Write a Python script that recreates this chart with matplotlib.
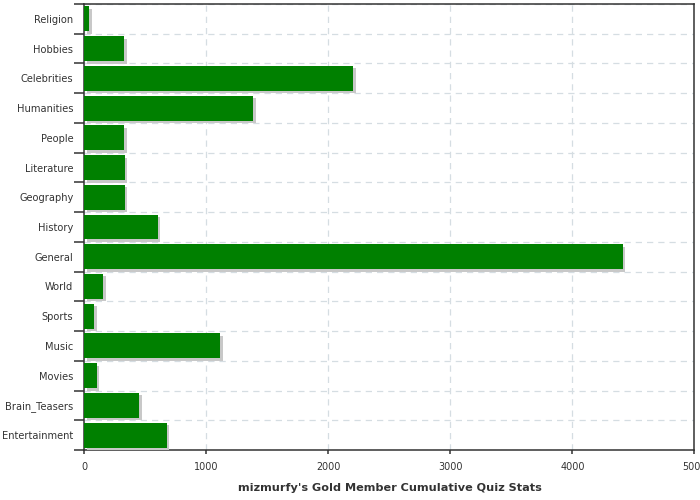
import matplotlib
matplotlib.use('Agg')
import matplotlib.pyplot as plt
import matplotlib.patheffects as pe
import numpy as np

categories = ['Religion', 'Hobbies', 'Celebrities', 'Humanities', 'People',
              'Literature', 'Geography', 'History', 'General', 'World',
              'Sports', 'Music', 'Movies', 'Brain_Teasers', 'Entertainment']
values = [37, 324, 2205, 1385, 324, 332, 332, 602, 4414, 152, 78, 1111, 102, 447, 676]
x_ticks = [0, 1000, 2000, 3000, 4000, 5000]

fig = plt.figure(figsize=(7, 5), dpi=100)
ax = fig.add_axes([0.1207, 0.1, 0.8713, 0.892])

pos = np.arange(len(categories))
ax.barh(pos, values, height=0.84, color='#008000', zorder=3,
        path_effects=[pe.SimplePatchShadow(offset=(1.8, -1.8), shadow_rgbFace='#c8c8c8', alpha=1.0),
                      pe.Normal()])

ax.set_xlim(0, 5000)
ax.set_ylim(len(categories) - 0.5, -0.5)
ax.set_xticks(x_ticks)
ax.set_xticklabels([str(t) for t in x_ticks], fontsize=6.9, color='#333333')

# category boundaries get the ticks and grid, labels sit in the middle
ax.set_yticks(np.arange(len(categories) + 1) - 0.5)
ax.set_yticklabels([])
ax.set_yticks(pos, minor=True)
ax.set_yticklabels(categories, minor=True, fontsize=7.1, color='#333333')
ax.tick_params(axis='y', which='major', length=7.5, width=1.1, color='#333333')
ax.tick_params(axis='y', which='minor', length=0, pad=8)
ax.tick_params(axis='x', length=3, width=1.1, color='#333333', pad=5.5)

ax.grid(True, which='major', linestyle=(0, (5, 4)), color='#d5dde2', linewidth=0.9, zorder=0)
ax.set_axisbelow(True)
for s in ax.spines.values():
    s.set_color('#333333')
    s.set_linewidth(1.1)

ax.set_xlabel("mizmurfy's Gold Member Cumulative Quiz Stats", fontsize=8.1,
              fontweight='bold', color='#333333', labelpad=8)

fig.savefig('out.png', dpi=100)
